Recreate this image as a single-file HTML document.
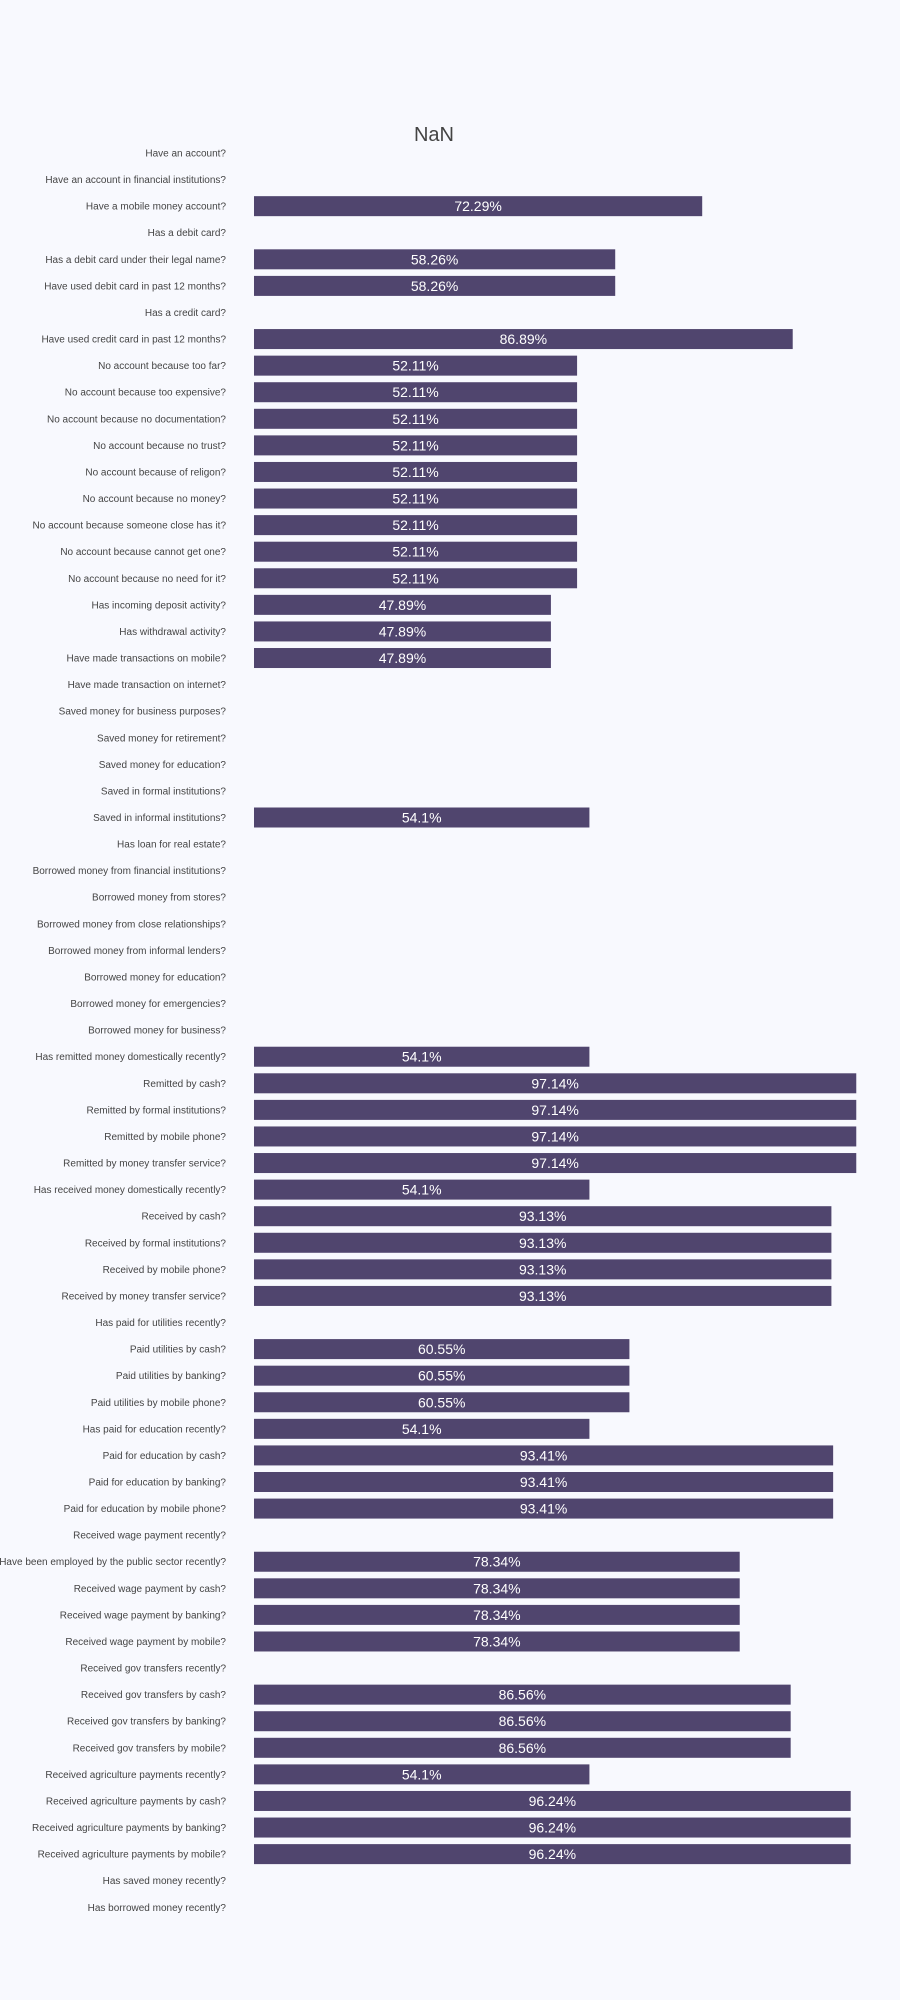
<!DOCTYPE html>
<html><head><meta charset="utf-8"><style>
body{margin:0;background:#f8f9fe;font-family:"Liberation Sans",sans-serif;}
svg{display:block}
</style></head><body>
<svg id="chart" width="900" height="2000">
<rect width="900" height="2000" fill="#f8f9fe"/>
<text x="434" y="141" text-anchor="middle" font-size="20" fill="#444">NaN</text>
<g id="bars"></g>
</svg>
<script>
const categories=["Have an account?","Have an account in financial institutions?","Have a mobile money account?","Has a debit card?","Has a debit card under their legal name?","Have used debit card in past 12 months?","Has a credit card?","Have used credit card in past 12 months?","No account because too far?","No account because too expensive?","No account because no documentation?","No account because no trust?","No account because of religon?","No account because no money?","No account because someone close has it?","No account because cannot get one?","No account because no need for it?","Has incoming deposit activity?","Has withdrawal activity?","Have made transactions on mobile?","Have made transaction on internet?","Saved money for business purposes?","Saved money for retirement?","Saved money for education?","Saved in formal institutions?","Saved in informal institutions?","Has loan for real estate?","Borrowed money from financial institutions?","Borrowed money from stores?","Borrowed money from close relationships?","Borrowed money from informal lenders?","Borrowed money for education?","Borrowed money for emergencies?","Borrowed money for business?","Has remitted money domestically recently?","Remitted by cash?","Remitted by formal institutions?","Remitted by mobile phone?","Remitted by money transfer service?","Has received money domestically recently?","Received by cash?","Received by formal institutions?","Received by mobile phone?","Received by money transfer service?","Has paid for utilities recently?","Paid utilities by cash?","Paid utilities by banking?","Paid utilities by mobile phone?","Has paid for education recently?","Paid for education by cash?","Paid for education by banking?","Paid for education by mobile phone?","Received wage payment recently?","Have been employed by the public sector recently?","Received wage payment by cash?","Received wage payment by banking?","Received wage payment by mobile?","Received gov transfers recently?","Received gov transfers by cash?","Received gov transfers by banking?","Received gov transfers by mobile?","Received agriculture payments recently?","Received agriculture payments by cash?","Received agriculture payments by banking?","Received agriculture payments by mobile?","Has saved money recently?","Has borrowed money recently?"];
const values=[null,null,72.29,null,58.26,58.26,null,86.89,52.11,52.11,52.11,52.11,52.11,52.11,52.11,52.11,52.11,47.89,47.89,47.89,null,null,null,null,null,54.1,null,null,null,null,null,null,null,null,54.1,97.14,97.14,97.14,97.14,54.1,93.13,93.13,93.13,93.13,null,60.55,60.55,60.55,54.1,93.41,93.41,93.41,null,78.34,78.34,78.34,78.34,null,86.56,86.56,86.56,54.1,96.24,96.24,96.24,null,null];
const labels=values.map(v=>v==null?"":v+"%");
const xMax=100;
const x0=254,xW=620,y0=153,step=26.58,bh=20;
const xs=v=>x0+v/xMax*xW;
const ys=i=>y0+i*step;
const g=document.getElementById('bars');
const ns="http://www.w3.org/2000/svg";
categories.forEach((c,i)=>{
  const t=document.createElementNS(ns,'text');
  t.setAttribute('x',226);t.setAttribute('y',ys(i)+3.5);
  t.setAttribute('text-anchor','end');t.setAttribute('font-size','10');t.setAttribute('fill','#444');
  t.textContent=c;
  
  
  g.appendChild(t);
  const v=values[i];
  if(v!=null){
    const r=document.createElementNS(ns,'rect');
    r.setAttribute('x',x0);r.setAttribute('y',ys(i)-bh/2);
    r.setAttribute('width',xs(v)-x0);r.setAttribute('height',bh);
    r.setAttribute('fill','#50456e');
    
    
    g.appendChild(r);
    const l=document.createElementNS(ns,'text');
    l.setAttribute('x',(x0+xs(v))/2);l.setAttribute('y',ys(i)+5);
    l.setAttribute('text-anchor','middle');l.setAttribute('font-size','14');l.setAttribute('fill','#fff');
    l.textContent=labels[i];
    
    
    g.appendChild(l);
  }
});
</script>
</body></html>
